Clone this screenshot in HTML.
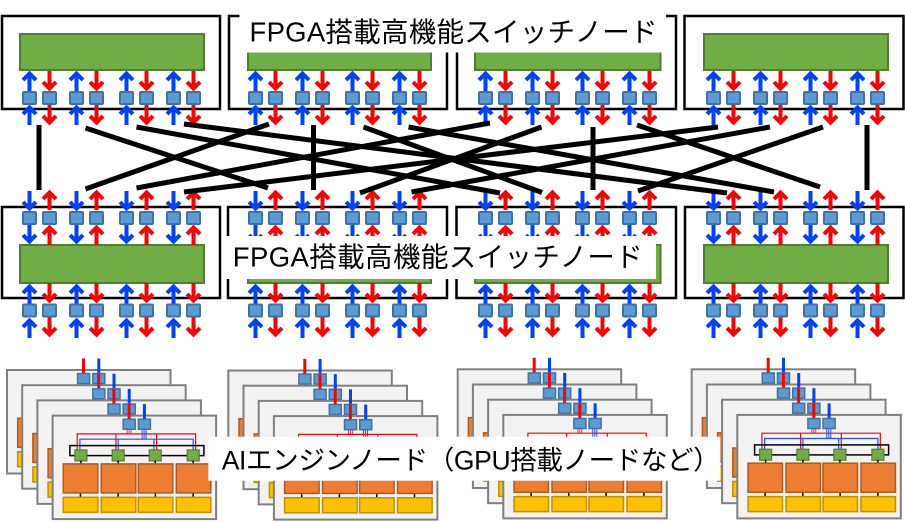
<!DOCTYPE html>
<html><head><meta charset="utf-8"><style>
html,body{margin:0;padding:0;background:#fff;}
svg{display:block;}
</style></head><body>
<svg xmlns="http://www.w3.org/2000/svg" width="905" height="522" viewBox="0 0 905 522">
<defs>
<path id="bu" d="M0,2.5V20M-6.5,9L0,2.5L6.5,9" stroke="#0040ff" stroke-width="4" fill="none"/>
<path id="bd" d="M0,-2.5V-20M-6.5,-9L0,-2.5L6.5,-9" stroke="#0040ff" stroke-width="4" fill="none"/>
<path id="ru" d="M0,2.5V20M-6.5,9L0,2.5L6.5,9" stroke="#ff0000" stroke-width="4" fill="none"/>
<path id="rd" d="M0,-2.5V-20M-6.5,-9L0,-2.5L6.5,-9" stroke="#ff0000" stroke-width="4" fill="none"/>
<rect id="sq" x="1" y="1" width="13" height="12" rx="1" fill="#5b9bd5" stroke="#41719c" stroke-width="2"/>
<g id="tp">
<use href="#bu" x="7.5" y="71"/><use href="#rd" x="27.5" y="91"/><use href="#bu" x="7.5" y="105"/><use href="#rd" x="27.5" y="125"/>
<use href="#bu" x="54.5" y="71"/><use href="#rd" x="74.5" y="91"/><use href="#bu" x="54.5" y="105"/><use href="#rd" x="74.5" y="125"/>
<use href="#bu" x="104.5" y="71"/><use href="#rd" x="124.5" y="91"/><use href="#bu" x="104.5" y="105"/><use href="#rd" x="124.5" y="125"/>
<use href="#bu" x="151.5" y="71"/><use href="#rd" x="171.5" y="91"/><use href="#bu" x="151.5" y="105"/><use href="#rd" x="171.5" y="125"/>
<use href="#sq" x="0" y="91"/><use href="#sq" x="20" y="91"/>
<use href="#sq" x="47" y="91"/><use href="#sq" x="67" y="91"/>
<use href="#sq" x="97" y="91"/><use href="#sq" x="117" y="91"/>
<use href="#sq" x="144" y="91"/><use href="#sq" x="164" y="91"/>
</g>
<g id="mp">
<use href="#bd" x="7.5" y="211"/><use href="#ru" x="27.5" y="190"/><use href="#bd" x="7.5" y="244"/><use href="#ru" x="27.5" y="225"/>
<use href="#bu" x="7.5" y="284"/><use href="#rd" x="27.5" y="303"/><use href="#bu" x="7.5" y="318"/><use href="#rd" x="27.5" y="337"/>
<use href="#bd" x="54.5" y="211"/><use href="#ru" x="74.5" y="190"/><use href="#bd" x="54.5" y="244"/><use href="#ru" x="74.5" y="225"/>
<use href="#bu" x="54.5" y="284"/><use href="#rd" x="74.5" y="303"/><use href="#bu" x="54.5" y="318"/><use href="#rd" x="74.5" y="337"/>
<use href="#bd" x="104.5" y="211"/><use href="#ru" x="124.5" y="190"/><use href="#bd" x="104.5" y="244"/><use href="#ru" x="124.5" y="225"/>
<use href="#bu" x="104.5" y="284"/><use href="#rd" x="124.5" y="303"/><use href="#bu" x="104.5" y="318"/><use href="#rd" x="124.5" y="337"/>
<use href="#bd" x="151.5" y="211"/><use href="#ru" x="171.5" y="190"/><use href="#bd" x="151.5" y="244"/><use href="#ru" x="171.5" y="225"/>
<use href="#bu" x="151.5" y="284"/><use href="#rd" x="171.5" y="303"/><use href="#bu" x="151.5" y="318"/><use href="#rd" x="171.5" y="337"/>
<use href="#sq" x="0" y="211"/><use href="#sq" x="20" y="211"/>
<use href="#sq" x="47" y="211"/><use href="#sq" x="67" y="211"/>
<use href="#sq" x="97" y="211"/><use href="#sq" x="117" y="211"/>
<use href="#sq" x="144" y="211"/><use href="#sq" x="164" y="211"/>
<use href="#sq" x="0" y="303.5"/><use href="#sq" x="20" y="303.5"/>
<use href="#sq" x="47" y="303.5"/><use href="#sq" x="67" y="303.5"/>
<use href="#sq" x="97" y="303.5"/><use href="#sq" x="117" y="303.5"/>
<use href="#sq" x="144" y="303.5"/><use href="#sq" x="164" y="303.5"/>
</g>
<g id="card">
<rect x="1" y="1" width="163.5" height="103.5" fill="#f2f2f2" stroke="#7f7f7f" stroke-width="2"/>
<path d="M77.5,-10.5V5" stroke="#ff0000" stroke-width="3"/>
<path d="M92.8,-10.5V5" stroke="#0040ff" stroke-width="3"/>
<path d="M75.5,14V19.3M77.5,14V19.3M79.5,14V19.3" stroke="#ff3030" stroke-width="1"/>
<path d="M90.5,14V24.6M92.5,14V24.6M94.5,14V24.6" stroke="#2050ff" stroke-width="1"/>
<path d="M25.6,36V19.3H144V36M64.3,19.3V36M105,19.3V36" stroke="#ff0000" stroke-width="1.2" fill="none"/>
<path d="M28.3,36V24.6H141.6V36M66.6,24.6V36M102.3,24.6V36" stroke="#1f4fff" stroke-width="1.2" fill="none"/>
<rect x="18.3" y="31" width="134" height="10" fill="none" stroke="#000" stroke-width="1.5"/>
<g fill="#70ad47" stroke="#507e32" stroke-width="1.2">
<rect x="23.3" y="35.3" width="12" height="11"/>
<rect x="60.6" y="35.3" width="12" height="11"/>
<rect x="97.6" y="35.3" width="12" height="11"/>
<rect x="135.6" y="35.3" width="12" height="11"/>
</g>
<path d="M29.3,46V49M66.6,46V49M103.6,46V49M141.6,46V49M28.8,78V83M66.5,78V83M103.8,78V83M141.6,78V83" stroke="#000" stroke-width="1.5"/>
<g fill="#ed7d31" stroke="#ae5a21" stroke-width="1.5">
<rect x="11.7" y="49.3" width="34.5" height="29"/>
<rect x="49.7" y="49.3" width="34.5" height="29"/>
<rect x="86.7" y="49.3" width="34.5" height="29"/>
<rect x="124.7" y="49.3" width="34.5" height="29"/>
</g>
<g fill="#ffc000" stroke="#bf9000" stroke-width="1.5">
<rect x="11.7" y="82.7" width="34.5" height="15"/>
<rect x="49.7" y="82.7" width="34.5" height="15"/>
<rect x="86.7" y="82.7" width="34.5" height="15"/>
<rect x="124.7" y="82.7" width="34.5" height="15"/>
</g>
<rect x="71.6" y="4.6" width="12" height="10" fill="#5b9bd5" stroke="#41719c" stroke-width="1.5"/>
<rect x="86.8" y="4.6" width="12" height="10" fill="#5b9bd5" stroke="#41719c" stroke-width="1.5"/>
</g>
<g id="grp">
<use href="#card" x="0" y="0"/>
<use href="#card" x="15.2" y="15.2"/>
<use href="#card" x="30.4" y="30.4"/>
<use href="#card" x="45.6" y="45.6"/>
</g>
</defs>

<g fill="none" stroke="#000" stroke-width="2.5">
<rect x="2" y="16" width="218" height="93"/>
<rect x="229" y="16" width="218" height="93"/>
<rect x="457" y="16" width="219" height="93"/>
<rect x="684.5" y="16" width="219" height="93"/>
<rect x="2" y="207" width="218" height="91"/>
<rect x="228" y="207" width="219" height="91"/>
<rect x="456.5" y="207" width="219.5" height="91"/>
<rect x="685" y="207" width="218.5" height="91"/>
</g>
<g fill="#70ad47" stroke="#507e32" stroke-width="2">
<rect x="20" y="34" width="184" height="36"/>
<rect x="248" y="34" width="183" height="36"/>
<rect x="475" y="34" width="185.5" height="36"/>
<rect x="704" y="34" width="184" height="36"/>
<rect x="20" y="245" width="184" height="38"/>
<rect x="248" y="245" width="183" height="38"/>
<rect x="475" y="245" width="185.5" height="38"/>
<rect x="704" y="245" width="184" height="38"/>
</g>

<use href="#tp" x="22" y="0"/>
<use href="#tp" x="248" y="0"/>
<use href="#tp" x="478" y="0"/>
<use href="#tp" x="706" y="0"/>
<use href="#mp" x="22" y="0"/>
<use href="#mp" x="248" y="0"/>
<use href="#mp" x="478" y="0"/>
<use href="#mp" x="706" y="0"/>

<g stroke="#000" stroke-width="5" fill="none">
<path d="M39,125V190"/>
<path d="M85.5,128L268,188"/>
<path d="M136.5,127L500,193"/>
<path d="M184,124L727,193"/>
<path d="M269,124L85.5,189"/>
<path d="M313.5,125V190"/>
<path d="M363.5,127L542,192.5"/>
<path d="M408.5,127L774,192"/>
<path d="M490,123L136.5,188"/>
<path d="M541.5,127L360,193"/>
<path d="M593,127V190"/>
<path d="M637,125L820,187"/>
<path d="M718,127L184,192"/>
<path d="M770,127L411.5,192"/>
<path d="M823,127L638,191"/>
<path d="M867,125V190"/>
</g>

<rect x="239.5" y="4" width="426.5" height="48.5" fill="#fff"/>
<text x="249.5" y="41.5" font-family="Liberation Sans, Noto Sans CJK JP, sans-serif" font-size="27.5" fill="#000" textLength="408" lengthAdjust="spacing">FPGA搭載高機能スイッチノード</text>
<rect x="223" y="236" width="433" height="43" fill="#fff"/>
<text x="232.8" y="266.5" font-family="Liberation Sans, Noto Sans CJK JP, sans-serif" font-size="27.5" fill="#000" textLength="410" lengthAdjust="spacing">FPGA搭載高機能スイッチノード</text>

<use href="#grp" x="6" y="369"/>
<use href="#grp" x="227.3" y="369.5"/>
<use href="#grp" x="456.7" y="368.3"/>
<use href="#grp" x="690.7" y="368.3"/>

<rect x="208.3" y="436.7" width="512" height="44" fill="#fff"/>
<text x="221.7" y="469.3" font-family="Liberation Sans, Noto Sans CJK JP, sans-serif" font-size="26.5" fill="#000" textLength="498" lengthAdjust="spacing">AIエンジンノード（GPU搭載ノードなど）</text>
</svg>
</body></html>
